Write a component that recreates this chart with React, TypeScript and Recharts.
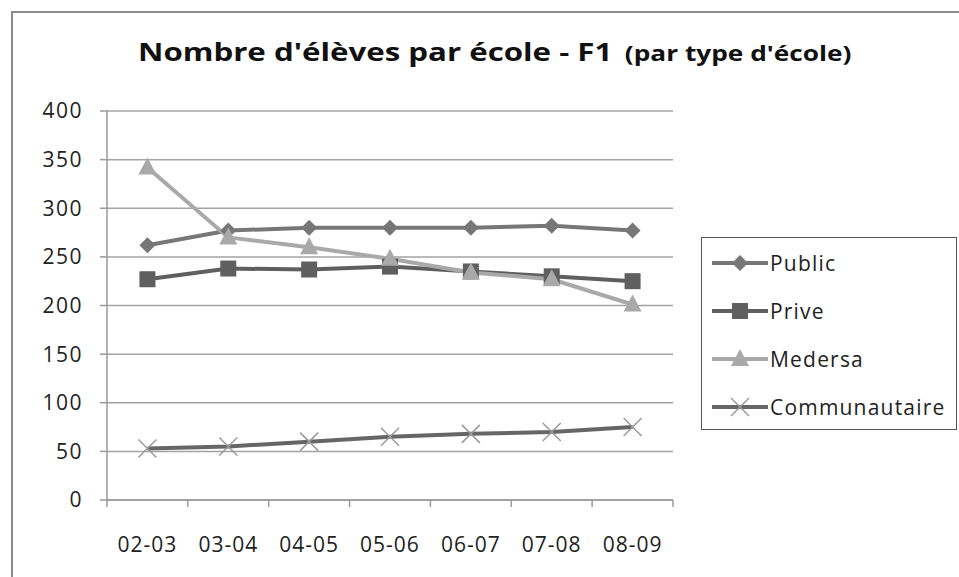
import React from "react"
import { LineChart, Line, XAxis, YAxis, CartesianGrid } from "recharts"

const categories = ["02-03", "03-04", "04-05", "05-06", "06-07", "07-08", "08-09"]
const publicValues = [262, 277, 280, 280, 280, 282, 277]
const priveValues = [227, 238, 237, 240, 235, 230, 225]
const medersaValues = [342, 270, 260, 248, 234, 227, 201]
const communautaireValues = [53, 55, 60, 65, 68, 70, 75]
const yTicks = [0, 50, 100, 150, 200, 250, 300, 350, 400]

const FONT = "'Open Sans', sans-serif"

// categories sit at half steps, so integer ticks are the boundaries between them
const data = categories.map((label, i) => ({
  x: i + 0.5,
  label,
  Public: publicValues[i],
  Prive: priveValues[i],
  Medersa: medersaValues[i],
  Communautaire: communautaireValues[i],
}))

const xTicks: number[] = []
for (let i = 0; i <= categories.length * 2; i++) xTicks.push(i / 2)

const series = [
  { key: "Public", stroke: "#777777", marker: "diamond", fill: "#777777" },
  { key: "Prive", stroke: "#5f5f5f", marker: "square", fill: "#5f5f5f" },
  { key: "Medersa", stroke: "#a9a9a9", marker: "triangle", fill: "#a9a9a9" },
  { key: "Communautaire", stroke: "#666666", marker: "cross", fill: "#9a9a9a" },
]

function Marker({ type, cx, cy, fill }: { type: string; cx: number; cy: number; fill: string }) {
  if (type === "diamond") {
    const r = 8
    return <path d={`M${cx},${cy - r}L${cx + r},${cy}L${cx},${cy + r}L${cx - r},${cy}Z`} fill={fill} />
  }
  if (type === "square") {
    const r = 8
    return <rect x={cx - r} y={cy - r} width={r * 2} height={r * 2} fill={fill} />
  }
  if (type === "triangle") {
    const w = 9
    return <path d={`M${cx},${cy - 10}L${cx + w},${cy + 7}L${cx - w},${cy + 7}Z`} fill={fill} />
  }
  const r = 9
  return (
    <path
      d={`M${cx - r},${cy - r}L${cx + r},${cy + r}M${cx - r},${cy + r}L${cx + r},${cy - r}`}
      stroke={fill}
      strokeWidth={1.5}
      fill="none"
    />
  )
}

function makeDot(type: string, fill: string) {
  return (props: any) => {
    const { cx, cy, index } = props
    if (cx == null || cy == null) return <g key={`d-${index}`} />
    return (
      <g key={`d-${type}-${index}`}>
        <Marker type={type} cx={cx} cy={cy} fill={fill} />
      </g>
    )
  }
}

function XTick(props: any) {
  const { x, y, payload } = props
  const v = payload.value
  if (Number.isInteger(v)) {
    return <line x1={x} x2={x} y1={y} y2={y + 7} stroke="#9a9a9a" strokeWidth={1.5} />
  }
  return (
    <text x={x} y={y + 52} textAnchor="middle" fill="#222" fontSize={21} fontFamily={FONT} letterSpacing={1}>
      {categories[Math.floor(v)]}
    </text>
  )
}

function LegendBox() {
  return (
    <div
      style={{
        position: "absolute",
        left: 701,
        top: 237,
        width: 256,
        height: 193,
        border: "1.5px solid #555",
        boxSizing: "border-box",
        background: "#fff",
        paddingTop: 1,
      }}
    >
      {series.map((s) => (
        <div key={s.key} style={{ height: 48, display: "flex", alignItems: "center" }}>
          <svg width={66} height={30} style={{ flex: "none" }}>
            <line x1={10} x2={66} y1={15} y2={15} stroke={s.stroke} strokeWidth={4} />
            <Marker type={s.marker} cx={38} cy={15} fill={s.fill} />
          </svg>
          <span style={{ fontFamily: FONT, fontSize: 21, color: "#222", marginLeft: 2, letterSpacing: 1.2 }}>
            {s.key}
          </span>
        </div>
      ))}
    </div>
  )
}

export default function App() {
  return (
    <div style={{ position: "absolute", left: 0, top: 0, width: 959, height: 577, background: "#fff", overflow: "hidden" }}>
      <div
        style={{
          position: "absolute",
          left: 11,
          top: 11,
          width: 1000,
          height: 700,
          border: "2.5px solid #8c8c8c",
          boxSizing: "border-box",
        }}
      />
      <svg width={959} height={100} style={{ position: "absolute", left: 0, top: 0 }}>
        <g transform="translate(138,61) scale(1.25,1)">
          <text x={0} y={0} fontFamily={FONT} fontWeight={700} fill="#111">
            <tspan fontSize={25}>Nombre d'élèves par école - F1</tspan>
            <tspan fontSize={21} dx={10}>(par type d'école)</tspan>
          </text>
        </g>
      </svg>
      <div style={{ position: "absolute", left: 0, top: 0 }}>
        <LineChart width={959} height={577} data={data} margin={{ top: 111, right: 286, bottom: 27, left: 47 }}>
          <CartesianGrid horizontal vertical={false} stroke="#a3a3a3" strokeWidth={1.5} />
          <XAxis
            dataKey="x"
            type="number"
            domain={[0, categories.length]}
            ticks={xTicks}
            interval={0}
            tickSize={0}
            tickMargin={0}
            tickLine={false}
            tick={<XTick />}
            height={50}
            axisLine={{ stroke: "#9a9a9a", strokeWidth: 1.5 }}
          />
          <YAxis
            domain={[0, 400]}
            ticks={yTicks}
            interval={0}
            width={60}
            tickSize={7}
            tickMargin={17}
            axisLine={{ stroke: "#9a9a9a", strokeWidth: 1.5 }}
            tickLine={{ stroke: "#9a9a9a", strokeWidth: 1.5 }}
            tick={{ fill: "#222", fontSize: 21, fontFamily: FONT, letterSpacing: 1.5 }}
          />
          {series.map((s) => (
            <Line
              key={s.key}
              dataKey={s.key}
              stroke={s.stroke}
              strokeWidth={4}
              dot={makeDot(s.marker, s.fill)}
              activeDot={false}
              isAnimationActive={false}
            />
          ))}
        </LineChart>
      </div>
      <LegendBox />
    </div>
  )
}
